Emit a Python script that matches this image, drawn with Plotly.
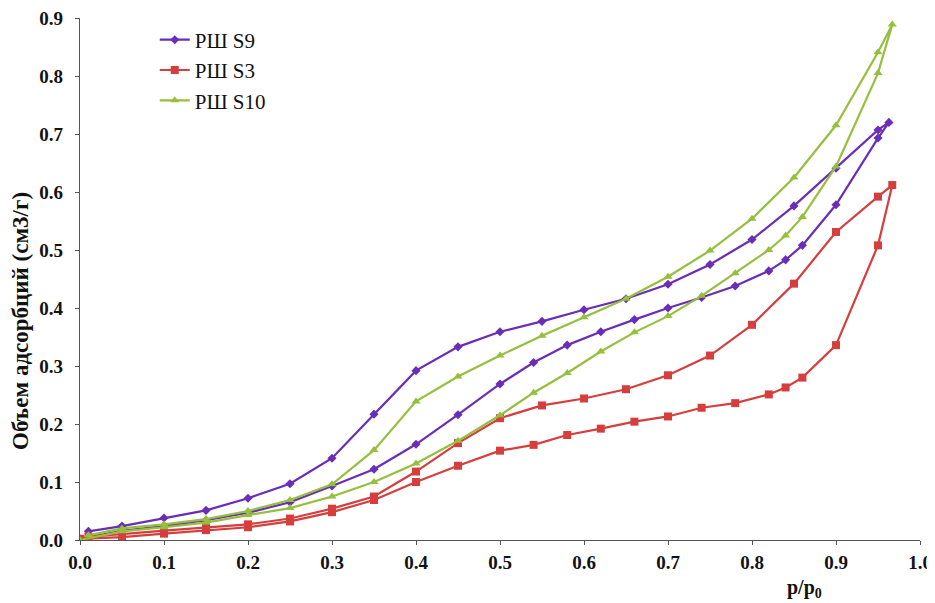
import plotly.graph_objects as go

# ---- data (p/p0, volume cm3/g); each series: adsorption branch then desorption branch ----
s9_ads_x = [0.0, 0.05, 0.10, 0.15, 0.20, 0.25, 0.30, 0.35, 0.40, 0.45, 0.50, 0.54, 0.58, 0.62, 0.66, 0.70, 0.74, 0.78, 0.82, 0.84, 0.86, 0.90, 0.95, 0.963]
s9_ads_y = [0.002, 0.016, 0.024, 0.034, 0.047, 0.065, 0.093, 0.122, 0.165, 0.216, 0.269, 0.306, 0.336, 0.359, 0.380, 0.400, 0.418, 0.438, 0.464, 0.483, 0.508, 0.578, 0.693, 0.720]
s9_des_x = [0.963, 0.95, 0.90, 0.85, 0.80, 0.75, 0.70, 0.65, 0.60, 0.55, 0.50, 0.45, 0.40, 0.35, 0.30, 0.25, 0.20, 0.15, 0.10, 0.05, 0.01]
s9_des_y = [0.720, 0.707, 0.641, 0.576, 0.518, 0.475, 0.441, 0.416, 0.397, 0.377, 0.359, 0.333, 0.292, 0.217, 0.141, 0.097, 0.072, 0.051, 0.038, 0.024, 0.015]

s3_ads_x = [0.0, 0.05, 0.10, 0.15, 0.20, 0.25, 0.30, 0.35, 0.40, 0.45, 0.50, 0.54, 0.58, 0.62, 0.66, 0.70, 0.74, 0.78, 0.82, 0.84, 0.86, 0.90, 0.95, 0.967]
s3_ads_y = [0.002, 0.005, 0.011, 0.017, 0.022, 0.032, 0.048, 0.069, 0.100, 0.128, 0.154, 0.164, 0.181, 0.192, 0.204, 0.213, 0.228, 0.236, 0.251, 0.263, 0.280, 0.336, 0.508, 0.612]
s3_des_x = [0.967, 0.95, 0.90, 0.85, 0.80, 0.75, 0.70, 0.65, 0.60, 0.55, 0.50, 0.45, 0.40, 0.35, 0.30, 0.25, 0.20, 0.15, 0.10, 0.05, 0.01]
s3_des_y = [0.612, 0.592, 0.531, 0.442, 0.371, 0.318, 0.284, 0.260, 0.244, 0.232, 0.210, 0.167, 0.118, 0.075, 0.054, 0.037, 0.027, 0.022, 0.016, 0.010, 0.006]

s10_ads_x = [0.0, 0.05, 0.10, 0.15, 0.20, 0.25, 0.30, 0.35, 0.40, 0.45, 0.50, 0.54, 0.58, 0.62, 0.66, 0.70, 0.74, 0.78, 0.82, 0.84, 0.86, 0.90, 0.95, 0.967]
s10_ads_y = [0.000, 0.015, 0.022, 0.030, 0.043, 0.055, 0.075, 0.100, 0.132, 0.171, 0.215, 0.254, 0.288, 0.325, 0.358, 0.386, 0.421, 0.460, 0.500, 0.525, 0.557, 0.644, 0.805, 0.889]
s10_des_x = [0.967, 0.95, 0.90, 0.85, 0.80, 0.75, 0.70, 0.65, 0.60, 0.55, 0.50, 0.45, 0.40, 0.35, 0.30, 0.25, 0.20, 0.15, 0.10, 0.05, 0.01]
s10_des_y = [0.889, 0.841, 0.715, 0.625, 0.554, 0.499, 0.454, 0.416, 0.384, 0.352, 0.318, 0.282, 0.239, 0.155, 0.096, 0.069, 0.050, 0.036, 0.027, 0.020, 0.008]

names = ["РШ S9", "РШ S3", "РШ S10"]
x_ticks = [0.0, 0.1, 0.2, 0.3, 0.4, 0.5, 0.6, 0.7, 0.8, 0.9, 1.0]
y_ticks = [0.0, 0.1, 0.2, 0.3, 0.4, 0.5, 0.6, 0.7, 0.8, 0.9]

SERIF = "Liberation Serif, Times New Roman, serif"

fig = go.Figure()
series = [
    (names[0], s9_ads_x + s9_des_x[1:], s9_ads_y + s9_des_y[1:], "#6A2DB8", "diamond", 7),
    (names[1], s3_ads_x + s3_des_x[1:], s3_ads_y + s3_des_y[1:], "#D63E3E", "square", 8),
    (names[2], s10_ads_x + s10_des_x[1:], s10_ads_y + s10_des_y[1:], "#95BF3D", "triangle-up", 8),
]
for name, xs, ys, col, sym, sz in series:
    fig.add_trace(go.Scatter(
        x=xs, y=ys, name=name, mode="lines+markers",
        line=dict(color=col, width=2.2),
        marker=dict(symbol=sym, size=sz, color=col, line=dict(width=0)),
    ))

# the page body adds an 8px margin; size/margins compensate so the plot area
# lands at x 80..920, y 18..540 in the 935x603 window
fig.update_layout(
    width=927, height=595,
    margin=dict(l=72, r=15, t=10, b=63),
    plot_bgcolor="white", paper_bgcolor="white",
    font=dict(family=SERIF, color="#111"),
    showlegend=True,
    legend=dict(x=0.089, y=0.997, xanchor="left", yanchor="top",
                font=dict(family=SERIF, size=21, color="#111"),
                bgcolor="rgba(0,0,0,0)", tracegroupgap=0),
)
fig.update_xaxes(
    range=[0, 1.0], tickvals=x_ticks, ticktext=[f"<b>{v:.1f}</b>" for v in x_ticks],
    showgrid=False, zeroline=False, showline=True, linecolor="#555", linewidth=1.2,
    ticks="outside", ticklen=4, tickcolor="#555", ticklabelstandoff=1,
    tickfont=dict(family=SERIF, size=19, color="#111"), automargin=False,
    ticklabeloverflow="allow",
)
fig.update_yaxes(
    range=[0, 0.9], tickvals=y_ticks, ticktext=[f"<b>{v:.1f}</b>" for v in y_ticks],
    showgrid=False, zeroline=False, showline=True, linecolor="#555", linewidth=1.2,
    ticks="outside", ticklen=4, tickcolor="#555", ticklabelstandoff=8,
    tickfont=dict(family=SERIF, size=19, color="#111"), automargin=False,
    ticklabeloverflow="allow",
)
fig.add_annotation(
    text="<b>Объем адсорбций (см3/г)</b>", textangle=-90,
    xref="paper", yref="paper", x=-0.070, y=0.42, xanchor="center", yanchor="middle",
    showarrow=False, font=dict(family=SERIF, size=23, color="#111"),
)
fig.add_annotation(
    text="<b>p/p<sub>0</sub></b>",
    xref="paper", yref="paper", x=0.862, y=-0.093, xanchor="center", yanchor="middle",
    showarrow=False, font=dict(family=SERIF, size=20, color="#111"),
)

fig.write_html("out.html")
